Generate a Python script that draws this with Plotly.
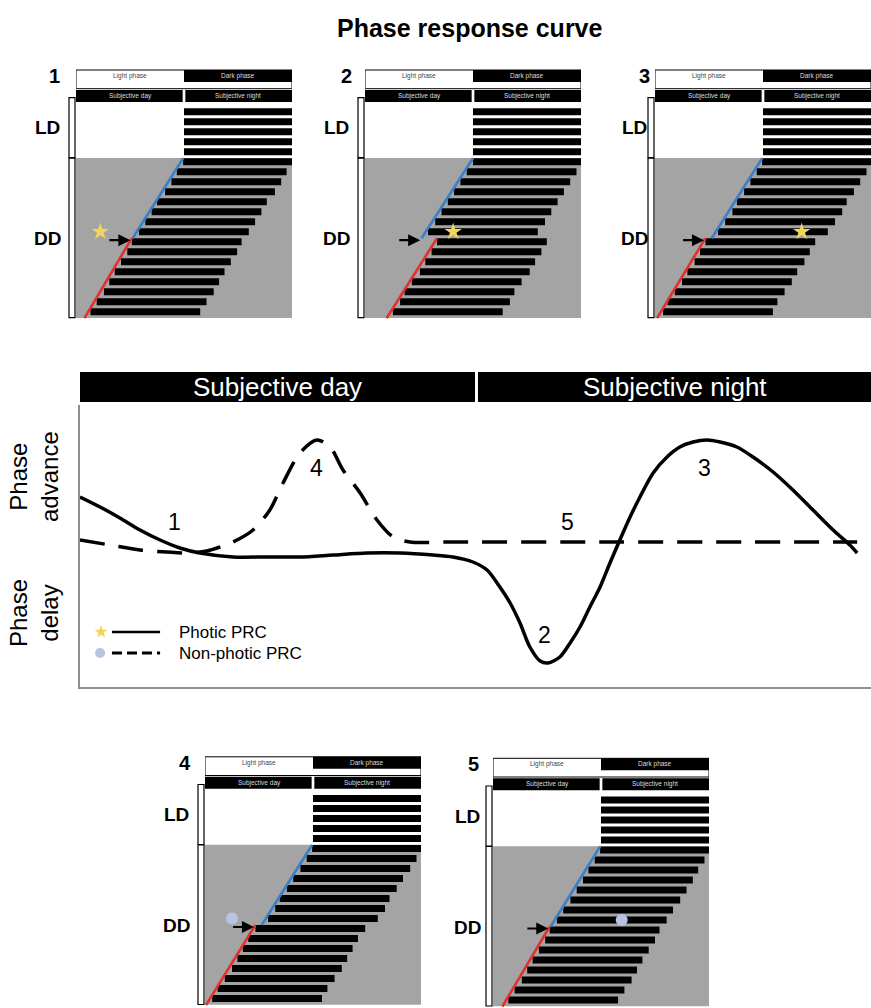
import plotly.graph_objects as go

W, H = 871, 1008
FONT = "Arial, 'Liberation Sans', Helvetica, sans-serif"

# ---------------- Phase response curves ----------------
# circadian time (h) against phase shift (h, positive = advance)
photic_ct = [0.00, 0.61, 1.21, 1.82, 2.43, 3.03, 3.64, 4.64, 5.67, 6.67, 7.68, 8.71,
             9.71, 10.71, 11.32, 11.92, 12.35, 12.74, 13.05, 13.35, 13.65, 13.96,
             14.20, 14.56, 14.87, 15.17, 15.47, 15.78, 16.08, 16.38, 16.69, 16.99,
             17.39, 17.81, 18.20, 18.60, 19.02, 19.42, 19.93, 20.42, 21.03, 21.63,
             22.24, 22.85, 23.36, 23.58]
photic_shift = [1.125, 0.875, 0.60, 0.30, 0.05, -0.15, -0.275, -0.375, -0.375, -0.375,
                -0.325, -0.275, -0.275, -0.325, -0.375, -0.50, -0.70, -1.125, -1.525,
                -2.025, -2.625, -2.975, -3.025, -2.875, -2.525, -2.125, -1.625, -1.125,
                -0.525, 0.05, 0.625, 1.125, 1.725, 2.125, 2.375, 2.50, 2.55, 2.50,
                2.375, 2.125, 1.75, 1.30, 0.80, 0.30, -0.075, -0.275]

nonphotic_ct = [0.00, 0.91, 1.82, 2.64, 3.25, 3.85, 4.64, 5.25, 5.76, 6.16, 6.67, 7.19,
                7.59, 7.98, 8.50, 9.01, 9.50, 10.01, 11.23, 15.78, 20.33, 23.58]
nonphotic_shift = [0.05, -0.075, -0.20, -0.25, -0.275, -0.225, 0.00, 0.30, 0.80, 1.475,
                   2.225, 2.55, 2.375, 1.80, 1.225, 0.55, 0.125, 0.00, 0.00, 0.00, 0.00, 0.00]

# numbered points on the curves
prc_label_text = ["1", "4", "5", "2", "3"]
prc_label_ct = [2.88, 7.19, 14.80, 14.10, 18.96]
prc_label_shift = [0.50, 1.85, 0.50, -2.33, 1.85]

# ---------------- Actograms ----------------
# activity onset (h) for each day; LD days first, then DD days
ld_onsets = [12.0, 12.0, 12.0, 12.0, 12.0]
dd_onsets_1 = [11.9, 11.2, 10.6, 9.9, 9.0, 8.4, 7.7, 7.0, 6.2, 5.7, 5.0, 4.3, 3.7, 3.1, 2.3, 1.6]
dd_onsets_2 = [12.0, 11.3, 10.6, 9.9, 9.2, 8.5, 7.8, 7.0, 8.0, 7.4, 6.7, 6.1, 5.2, 4.4, 3.9, 3.1]
dd_onsets_3 = [11.9, 11.3, 10.6, 9.9, 9.1, 8.6, 7.8, 7.0, 5.6, 5.0, 4.4, 3.6, 3.0, 2.2, 1.4, 0.9]
dd_onsets_4 = [11.9, 11.3, 10.6, 9.8, 9.1, 8.3, 7.8, 7.0, 5.6, 4.8, 4.2, 3.6, 3.0, 2.2, 1.4, 0.8]
dd_onsets_5 = [11.9, 11.3, 10.6, 10.0, 9.3, 8.6, 7.8, 7.1, 6.3, 5.8, 5.1, 4.4, 3.8, 3.2, 2.4, 1.7]
activity_hours = 12.2
pulse_day = 13
pulse_time = [2.7, 9.8, 16.3, 3.0, 14.3]
pulse_kind = ["photic", "photic", "photic", "nonphotic", "nonphotic"]

STAR = "#f3d55b"
DOT = "#b7c4e4"
BLUE = "#3a7fc8"
RED = "#e3302a"
GRAY = "#a4a4a4"


def fx(px):
    return px / W


def fy(py):
    return 1 - py / H


def label(x, y, text, size, color="black", xref="paper", yref="paper", **kw):
    d = dict(x=x, y=y, xref=xref, yref=yref, text=text, showarrow=False,
             xanchor="center", yanchor="middle", font=dict(family=FONT, size=size, color=color))
    d.update(kw)
    return d


fig = go.Figure()
shapes, annots = [], []
layout_axes = {}

# panel placement: id, box left (px), first-row centre (px), number x, LD/DD label x
PANELS = [
    (1, 76, 111.7, 54, 47),
    (2, 365, 111.7, 346, 336),
    (3, 655, 111.7, 644, 634),
    (4, 205, 798.5, 185, 176),
    (5, 493, 800.0, 473, 467),
]
ROW_PX = 10
BOX_W = 216
dd_sets = [dd_onsets_1, dd_onsets_2, dd_onsets_3, dd_onsets_4, dd_onsets_5]

for idx, (pid, left, row1, num_x, lab_x) in enumerate(PANELS):
    sfx = "" if pid == 1 else str(pid)
    xa, ya = "x" + sfx, "y" + sfx
    top_px = row1 - 5.2 * ROW_PX
    bot_px = row1 + 20.8 * ROW_PX
    layout_axes["xaxis" + sfx] = dict(domain=[fx(left), min(1.0, fx(left + BOX_W))], range=[0, 24],
                                      visible=False, fixedrange=True, anchor=ya)
    layout_axes["yaxis" + sfx] = dict(domain=[max(0.0, fy(bot_px)), fy(top_px)], range=[21.8, -4.2],
                                      visible=False, fixedrange=True, anchor=xa)

    onsets = ld_onsets + dd_sets[idx]
    n_ld = len(ld_onsets)
    n_days = len(onsets)
    days = list(range(1, n_days + 1))

    # constant darkness background
    shapes.append(dict(type="rect", xref=xa, yref=ya, x0=0, x1=24, y0=n_ld + 0.63, y1=n_days + 0.63,
                       fillcolor=GRAY, line=dict(width=0), layer="below"))

    # activity bars
    fig.add_trace(go.Bar(y=days, x=[activity_hours] * n_days, base=onsets, orientation="h",
                         width=0.7, marker=dict(color="black", line=dict(width=0)),
                         xaxis=xa, yaxis=ya, hoverinfo="skip", showlegend=False))

    # onset fits before and after the stimulus
    d0 = n_ld
    p = pulse_day - 1
    drift_b = (onsets[d0] - onsets[p]) / (p - d0)
    drift_r = (onsets[p + 1] - onsets[-1]) / (n_days - 1 - (p + 1))
    blue_end = onsets[p] - drift_b
    fig.add_trace(go.Scatter(x=[onsets[d0], blue_end], y=[d0 + 0.65, p + 1.65], mode="lines",
                             line=dict(color=BLUE, width=2.6), xaxis=xa, yaxis=ya,
                             hoverinfo="skip", showlegend=False))
    fig.add_trace(go.Scatter(x=[onsets[p + 1], onsets[-1] - drift_r], y=[p + 1.65, n_days + 0.65],
                             mode="lines", line=dict(color=RED, width=2.6), xaxis=xa, yaxis=ya,
                             hoverinfo="skip", showlegend=False))

    # arrow marking the first day after the stimulus
    tip = min(blue_end, onsets[p + 1]) - 0.15
    annots.append(dict(x=tip, y=p + 1.85, xref=xa, yref=ya, ax=tip - 2.5, ay=p + 1.85,
                       axref=xa, ayref=ya, text="", showarrow=True, arrowhead=2, arrowsize=1.1,
                       arrowwidth=2.2, arrowcolor="black", standoff=0))

    # stimulus marker
    if pulse_kind[idx] == "photic":
        mk = dict(symbol="star", size=13, color=STAR, line=dict(width=0))
    else:
        mk = dict(symbol="circle", size=12, color=DOT, line=dict(width=0))
    fig.add_trace(go.Scatter(x=[pulse_time[idx]], y=[pulse_day], mode="markers", marker=mk,
                             xaxis=xa, yaxis=ya, hoverinfo="skip", showlegend=False))

    # header: light/dark phase and subjective day/night
    shapes.append(dict(type="rect", xref=xa, yref=ya, x0=0, x1=24, y0=-3.17, y1=-1.3,
                       fillcolor="white", line=dict(color="black", width=1)))
    shapes.append(dict(type="rect", xref=xa, yref=ya, x0=12, x1=24, y0=-3.17, y1=-1.97,
                       fillcolor="black", line=dict(width=0)))
    shapes.append(dict(type="rect", xref=xa, yref=ya, x0=0, x1=11.85, y0=-1.17, y1=0.03,
                       fillcolor="black", line=dict(width=0)))
    shapes.append(dict(type="rect", xref=xa, yref=ya, x0=12.15, x1=24, y0=-1.17, y1=0.03,
                       fillcolor="black", line=dict(width=0)))
    for tx, cx, cy, col in [("Light phase", 6, -2.57, "#444"), ("Dark phase", 18, -2.57, "#ddd"),
                            ("Subjective day", 6, -0.57, "#ddd"), ("Subjective night", 18, -0.57, "#ddd")]:
        annots.append(label(cx, cy, tx, 6.5, col, xref=xa, yref=ya))

    # LD / DD brackets
    for y0, y1 in [(row1 - 14, row1 + 46), (row1 + 46.5, row1 + 206)]:
        shapes.append(dict(type="rect", xref="paper", yref="paper", x0=fx(left - 7), x1=fx(left - 1),
                           y0=fy(y1), y1=fy(y0), fillcolor="white", line=dict(color="black", width=1.2)))

    annots.append(label(fx(num_x), fy(row1 - 36), "<b>%d</b>" % pid, 20))
    annots.append(label(fx(lab_x), fy(row1 + 16), "<b>LD</b>", 19))
    annots.append(label(fx(lab_x), fy(row1 + 127), "<b>DD</b>", 19))

# ---------------- PRC plot ----------------
PRC_L, PRC_R, PRC_T, PRC_B = 80, 871, 405, 687
layout_axes["xaxis6"] = dict(domain=[fx(PRC_L), fx(PRC_R)], range=[0, 24], showgrid=False, zeroline=False,
                             showticklabels=False, ticks="", showline=True, linecolor="#8e8e8e",
                             linewidth=2, fixedrange=True, anchor="y6")
layout_axes["yaxis6"] = dict(domain=[fy(PRC_B), fy(PRC_T)], range=[-3.625, 3.425], showgrid=False,
                             zeroline=False, showticklabels=False, ticks="", showline=True,
                             linecolor="#8e8e8e", linewidth=2, fixedrange=True, anchor="x6")

fig.add_trace(go.Scatter(x=nonphotic_ct, y=nonphotic_shift, mode="lines",
                         line=dict(color="black", width=3.5, dash="25px,14px", shape="spline", smoothing=0.8),
                         xaxis="x6", yaxis="y6", hoverinfo="skip", showlegend=False))
fig.add_trace(go.Scatter(x=photic_ct, y=photic_shift, mode="lines",
                         line=dict(color="black", width=3.5, shape="spline", smoothing=0.8),
                         xaxis="x6", yaxis="y6", hoverinfo="skip", showlegend=False))

for t, cx, cy in zip(prc_label_text, prc_label_ct, prc_label_shift):
    annots.append(label(cx, cy, t, 23, xref="x6", yref="y6"))

# subjective day / night header
shapes.append(dict(type="rect", xref="paper", yref="paper", x0=fx(80), x1=fx(475), y0=fy(402), y1=fy(372),
                   fillcolor="black", line=dict(width=0)))
shapes.append(dict(type="rect", xref="paper", yref="paper", x0=fx(478), x1=fx(871), y0=fy(402), y1=fy(372),
                   fillcolor="black", line=dict(width=0)))
annots.append(label(fx(277.5), fy(387), "Subjective day", 26, "white"))
annots.append(label(fx(674.5), fy(387), "Subjective night", 26, "white"))

# y-axis captions
annots.append(label(fx(34), fy(477), "Phase<br>advance", 24, textangle=-90))
annots.append(label(fx(34), fy(613), "Phase<br>delay", 24, textangle=-90))

# key
key_y = [-2.25, -2.775]
fig.add_trace(go.Scatter(x=[0.97, 2.43], y=[key_y[0]] * 2, mode="lines", line=dict(color="black", width=2.5),
                         xaxis="x6", yaxis="y6", hoverinfo="skip", showlegend=False))
fig.add_trace(go.Scatter(x=[0.97, 2.43], y=[key_y[1]] * 2, mode="lines",
                         line=dict(color="black", width=3, dash="10px,5px"),
                         xaxis="x6", yaxis="y6", hoverinfo="skip", showlegend=False))
fig.add_trace(go.Scatter(x=[0.64], y=[key_y[0]], mode="markers",
                         marker=dict(symbol="star", size=10, color=STAR, line=dict(width=0)),
                         xaxis="x6", yaxis="y6", hoverinfo="skip", showlegend=False))
fig.add_trace(go.Scatter(x=[0.61], y=[key_y[1]], mode="markers",
                         marker=dict(symbol="circle", size=10, color=DOT, line=dict(width=0)),
                         xaxis="x6", yaxis="y6", hoverinfo="skip", showlegend=False))
for t, yy in zip(["Photic PRC", "Non-photic PRC"], key_y):
    annots.append(label(2.95, yy, t, 17, xref="x6", yref="y6", xanchor="left"))

# title
annots.append(label(fx(470), fy(28), "<b>Phase response curve</b>", 25))

fig.update_layout(width=W, height=H, margin=dict(l=0, r=0, t=0, b=0), paper_bgcolor="white",
                  plot_bgcolor="rgba(0,0,0,0)", showlegend=False, barmode="overlay",
                  shapes=shapes, annotations=annots, **layout_axes)

fig.write_html("out.html")
